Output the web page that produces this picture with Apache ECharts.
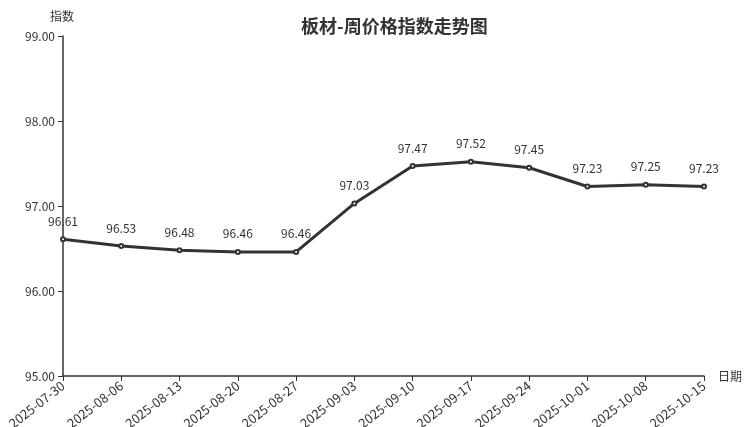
<!DOCTYPE html>
<html><head><meta charset="utf-8">
<script src="https://cdn.jsdelivr.net/npm/echarts@6/dist/echarts.min.js"></script>
<style>html,body{margin:0;padding:0;background:#fff}#c{width:752px;height:427px}</style>
</head><body><div id="c"></div>
<script>
var categories = ["2025-07-30","2025-08-06","2025-08-13","2025-08-20","2025-08-27","2025-09-03","2025-09-10","2025-09-17","2025-09-24","2025-10-01","2025-10-08","2025-10-15"];
var values = [96.61,96.53,96.48,96.46,96.46,97.03,97.47,97.52,97.45,97.23,97.25,97.23];
var font = '"Noto Sans CJK SC", "Noto Sans", sans-serif';
var chart = echarts.init(document.getElementById('c'));
chart.setOption({
  animation:false,
  textStyle:{fontFamily:font},
  title:{text:'板材-周价格指数走势图',left:296,top:12,textStyle:{fontSize:18,fontWeight:'bold',color:'#333',fontFamily:font}},
  grid:{left:63,right:48,top:36,bottom:51,containLabel:false,outerBoundsMode:'none'},
  xAxis:{type:'category',data:categories,boundaryGap:false,name:'日期',nameGap:14,
    nameTextStyle:{color:'#333',fontSize:12,fontFamily:font},
    axisLine:{lineStyle:{color:'#333',width:1.5}},
    axisTick:{alignWithLabel:true,lineStyle:{color:'#333'}},
    axisLabel:{rotate:38,color:'#333',fontSize:13,interval:0,fontFamily:font,margin:8}},
  yAxis:{type:'value',min:95,max:99,interval:1,name:'指数',nameGap:14,
    nameTextStyle:{color:'#333',fontSize:12,fontFamily:font,align:'right',padding:[0,-11,0,0]},
    axisLine:{show:true,lineStyle:{color:'#333',width:1.5}},
    axisTick:{show:true,lineStyle:{color:'#333'}},
    splitLine:{show:false},
    axisLabel:{color:'#333',fontSize:12,fontFamily:font,formatter:function(v){return v.toFixed(2);}}},
  series:[{type:'line',data:values,symbol:'emptyCircle',symbolSize:4,
    lineStyle:{color:'#333',width:3},itemStyle:{color:'#333',borderWidth:1},
    label:{show:true,position:'top',distance:9,color:'#333',fontSize:12,fontFamily:font,formatter:function(p){return p.value.toFixed(2);}}}]
});
</script></body></html>
